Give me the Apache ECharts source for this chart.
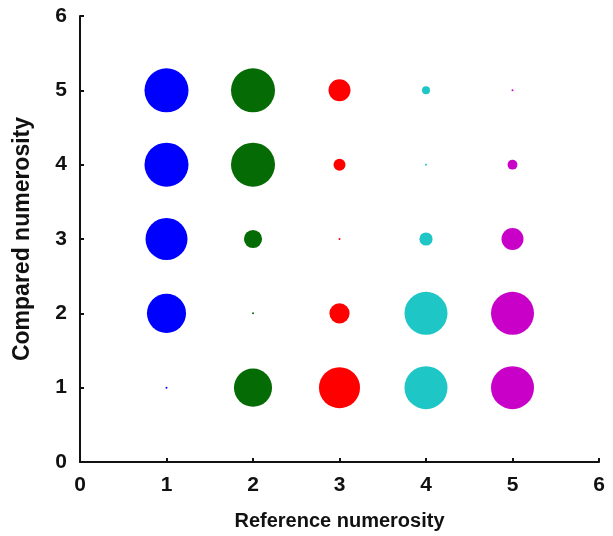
<!DOCTYPE html>
<html>
<head>
<meta charset="utf-8">
<script src="https://cdn.jsdelivr.net/npm/echarts@6/dist/echarts.min.js"></script>
<style>
  html, body { margin: 0; padding: 0; background: #fff; }
  #chart { width: 613px; height: 536px; }
</style>
</head>
<body>
<div id="chart"></div>
<script>
// Reference numerosity (x) and compared numerosity (y)
const referenceNumerosity = [1, 2, 3, 4, 5];
const comparedNumerosity = [1, 2, 3, 4, 5];
const axisTicks = [0, 1, 2, 3, 4, 5, 6];

// Response proportion for each compared numerosity 1..5, one list per reference
const propRef1 = [0.002, 0.79, 0.91, 1.0, 1.0];
const propRef2 = [0.75, 0.002, 0.17, 1.0, 1.0];
const propRef3 = [0.87, 0.21, 0.002, 0.074, 0.25];
const propRef4 = [0.955, 0.955, 0.09, 0.002, 0.033];
const propRef5 = [0.955, 0.955, 0.25, 0.05, 0.002];

const proportions = [propRef1, propRef2, propRef3, propRef4, propRef5];
const colors = ['#0000ff', '#056b05', '#ff0000', '#1ec6c6', '#c800c8'];

// Bubble area scales with the proportion
const MAX_DIAMETER = 44;
function bubbleSize(v) {
  return Math.max(1.8, MAX_DIAMETER * Math.sqrt(v[2]));
}

const series = referenceNumerosity.map((ref, i) => ({
  type: 'scatter',
  name: 'Reference ' + ref,
  data: comparedNumerosity.map((c, j) => [ref, c, proportions[i][j]]),
  symbolSize: bubbleSize,
  itemStyle: { color: colors[i], opacity: 1 },
  emphasis: { disabled: true }
}));

const font = 'Liberation Sans, Arial, sans-serif';
const axisCommon = {
  type: 'value',
  min: axisTicks[0],
  max: axisTicks[axisTicks.length - 1],
  interval: 1,
  nameLocation: 'middle',
  nameTextStyle: { fontFamily: font, fontWeight: 'bold', color: '#111' },
  axisLine: { show: true, onZero: false, lineStyle: { color: '#111', width: 2 } },
  axisTick: { show: true, inside: true, length: 4, lineStyle: { color: '#111', width: 2 } },
  axisLabel: { fontFamily: font, fontWeight: 'bold', fontSize: 21, color: '#111' },
  splitLine: { show: false }
};

const chart = echarts.init(document.getElementById('chart'), null, { renderer: 'canvas' });
chart.setOption({
  backgroundColor: '#fff',
  animation: false,
  grid: { left: 80, right: 14, top: 16, bottom: 74, containLabel: false },
  xAxis: Object.assign({}, axisCommon, {
    name: 'Reference numerosity',
    nameGap: 49,
    nameTextStyle: Object.assign({}, axisCommon.nameTextStyle, { fontSize: 20 }),
    axisLabel: Object.assign({}, axisCommon.axisLabel, { margin: 13 })
  }),
  yAxis: Object.assign({}, axisCommon, {
    name: 'Compared numerosity',
    nameGap: 46,
    nameTextStyle: Object.assign({}, axisCommon.nameTextStyle, { fontSize: 23 }),
    axisLabel: Object.assign({}, axisCommon.axisLabel, { margin: 13 })
  }),
  series: series
});
</script>
</body>
</html>
